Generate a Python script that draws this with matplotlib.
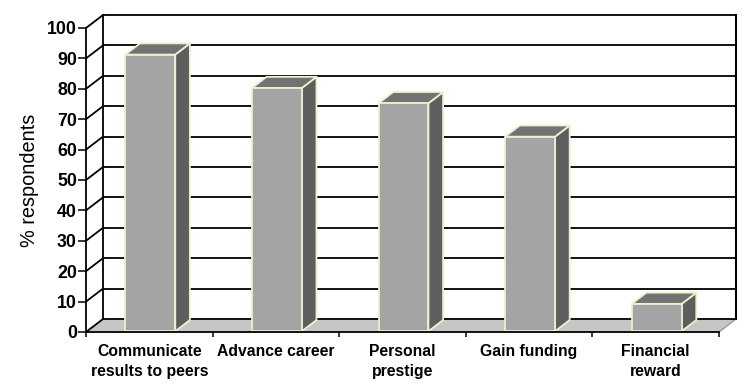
import matplotlib
matplotlib.use("Agg")
import matplotlib.pyplot as plt
from matplotlib.patches import Polygon

categories = ["Communicate\nresults to peers", "Advance career", "Personal\nprestige",
              "Gain funding", "Financial\nreward"]
values = [91, 80, 75, 64, 9]
yticks = list(range(0, 101, 10))

plt.rcParams['font.family'] = ['Liberation Sans', 'DejaVu Sans']

W, H = 754, 391
fig = plt.figure(figsize=(W / 100, H / 100), dpi=100)
# front plane of the 3D box (pixels from the reference)
x0, x1 = 86, 719
y0, y1 = 332, 28
ax = fig.add_axes([x0 / W, 1 - y0 / H, (x1 - x0) / W, (y0 - y1) / H])
n = len(categories)
ax.set_xlim(0, n)
ax.set_ylim(0, 100)

ux = (x1 - x0) / n
uy = (y0 - y1) / 100
DX = 17 / ux
DY = 13 / uy

floor_c = '#C6C6C6'
front_c = '#A4A4A4'
side_c = '#5E5E5E'
top_c = '#727272'
edge_c = '#F1EDD0'

# floor
ax.add_patch(Polygon([(0, 0), (n, 0), (n + DX, DY), (DX, DY)], closed=True,
                     facecolor=floor_c, edgecolor='none', clip_on=False, zorder=1))
ax.plot([n, n + DX], [0, DY], color='#9A9A9A', lw=1.0, clip_on=False, zorder=1.5)

# back wall gridlines and left wall diagonals
for t in yticks:
    ax.plot([DX, n + DX], [t + DY, t + DY], color='black', lw=1.3, clip_on=False, zorder=2)
    ax.plot([0, DX], [t, t + DY], color='black', lw=1.3, clip_on=False, zorder=2)
ax.plot([DX, DX], [DY, 100 + DY], color='black', lw=1.3, clip_on=False, zorder=2)
ax.plot([n + DX, n + DX], [DY, 100 + DY], color='black', lw=1.5, clip_on=False, zorder=2)

# 3D bars
w = 0.197
f0, f1 = 0.06, 0.92
for i, v in enumerate(values):
    c = i + 0.5
    a0x, a0y = f0 * DX, f0 * DY
    a1x, a1y = f1 * DX, f1 * DY
    front = [(c - w + a0x, a0y), (c + w + a0x, a0y), (c + w + a0x, v + a0y), (c - w + a0x, v + a0y)]
    side = [(c + w + a0x, a0y), (c + w + a1x, a1y), (c + w + a1x, v + a1y), (c + w + a0x, v + a0y)]
    top = [(c - w + a0x, v + a0y), (c + w + a0x, v + a0y), (c + w + a1x, v + a1y), (c - w + a1x, v + a1y)]
    for poly, col in ((side, side_c), (top, top_c), (front, front_c)):
        ax.add_patch(Polygon(poly, closed=True, facecolor=col, edgecolor=edge_c,
                             lw=1.3, joinstyle='round', clip_on=False, zorder=3))

# axes styling
for s in ('top', 'right'):
    ax.spines[s].set_visible(False)
ax.spines['left'].set_linewidth(1.3)
ax.spines['bottom'].set_linewidth(1.3)
ax.spines['left'].set_zorder(4)
ax.spines['bottom'].set_zorder(4)
ax.patch.set_visible(False)

ax.set_yticks(yticks)
ax.set_yticklabels([str(t) for t in yticks], fontsize=12.8, fontweight='bold')
ax.tick_params(axis='y', direction='out', length=5.5, width=1.1, pad=1)

ax.set_xticks(range(n + 1))
ax.set_xticklabels([])
ax.tick_params(axis='x', which='major', direction='out', length=3.8, width=1.1)
ax.set_xticks([i + 0.5 for i in range(n)], minor=True)
ax.set_xticklabels(categories, minor=True, fontsize=11.3, fontweight='bold',
                   linespacing=1.45)
ax.tick_params(axis='x', which='minor', length=0, pad=8.5)

ax.set_ylabel('% respondents', fontsize=14.3, labelpad=6)

fig.savefig('out.png', dpi=100)
